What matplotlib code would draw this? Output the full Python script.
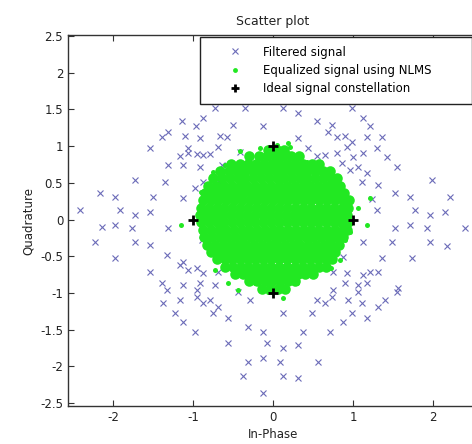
import matplotlib
matplotlib.use("Agg")
import matplotlib.pyplot as plt
import numpy as np

# filtered (pre-equalizer) samples, (in-phase, quadrature)
filtered_iq = [
    (-0.73, 1.52), (-0.35, 1.52), (0.13, 1.52), (0.31, 1.45), (0.99, 1.52),
    (-0.88, 1.38), (-1.14, 1.34), (-0.96, 1.28), (-0.50, 1.29), (-0.13, 1.27),
    (0.55, 1.34), (0.74, 1.29), (1.13, 1.38), (1.21, 1.27),
    (-1.39, 1.12), (-1.31, 1.19), (-1.10, 1.14), (-0.91, 1.11), (-0.66, 1.14), (-0.58, 1.12),
    (0.31, 1.11), (0.69, 1.19), (0.80, 1.12), (0.90, 1.14), (0.99, 1.06), (1.18, 1.12), (1.36, 1.12),
    (-1.54, 0.97), (-1.06, 0.97), (-0.69, 0.99), (0.44, 0.97), (0.93, 0.99), (1.30, 0.97),
    (-1.16, 0.87), (-1.06, 0.91), (-0.95, 0.89), (-0.88, 0.88), (-0.79, 0.89), (-0.41, 0.92),
    (0.55, 0.87), (0.65, 0.88), (0.80, 0.91), (1.00, 0.85), (1.13, 0.91), (1.43, 0.85),
    (-1.31, 0.74), (-1.13, 0.74), (-0.91, 0.72), (-0.64, 0.74), (0.86, 0.77), (0.96, 0.67),
    (1.06, 0.72), (1.55, 0.72),
    (-1.73, 0.54), (-1.35, 0.51), (-0.88, 0.51), (-0.66, 0.50), (1.11, 0.51), (1.18, 0.63),
    (1.31, 0.47), (1.99, 0.54),
    (-0.98, 0.43), (-2.16, 0.36), (-1.98, 0.31), (-1.50, 0.31), (-1.13, 0.29), (0.74, 0.43),
    (1.24, 0.28), (1.53, 0.36), (1.71, 0.31), (2.21, 0.31),
    (-2.41, 0.13), (-1.91, 0.13), (-1.73, 0.06), (-1.54, 0.10), (1.30, 0.13), (1.78, 0.13),
    (1.96, 0.06), (2.15, 0.10),
    (-2.14, -0.10), (-1.98, -0.07), (-1.76, -0.12), (-1.31, -0.12), (1.53, -0.12), (1.71, -0.07),
    (1.93, -0.12), (2.40, -0.12),
    (-2.23, -0.31), (-1.73, -0.31), (-1.54, -0.35), (-0.89, -0.28), (1.13, -0.31), (1.49, -0.31),
    (1.96, -0.31), (2.18, -0.36),
    (-1.98, -0.52), (-1.33, -0.48), (0.88, -0.51), (1.36, -0.52), (1.74, -0.52),
    (-1.13, -0.58), (-1.16, -0.62),
    (-1.54, -0.72), (-1.06, -0.69), (-0.95, -0.66), (-0.88, -0.73), (-0.69, -0.72),
    (0.75, -0.72), (0.93, -0.73), (1.13, -0.76), (1.21, -0.72), (1.31, -0.72),
    (-1.39, -0.87), (-1.13, -0.89), (-0.91, -0.87), (-0.73, -0.89), (0.90, -0.87), (1.06, -0.89),
    (1.18, -0.87), (1.56, -0.93),
    (-1.33, -0.96), (-0.95, -0.96), (-0.44, -0.99), (0.75, -0.96), (1.06, -0.99), (1.55, -0.99),
    (-1.38, -1.14), (-1.16, -1.10), (-0.95, -1.06), (-0.88, -1.14), (-0.79, -1.10), (-0.69, -1.19),
    (-0.29, -1.10),
    (0.55, -1.10), (0.65, -1.14), (0.74, -1.06), (0.94, -1.10), (1.11, -1.14), (1.31, -1.19),
    (1.40, -1.10),
    (-1.23, -1.27), (-1.13, -1.40), (-0.75, -1.27), (-0.56, -1.34), (0.13, -1.27), (0.49, -1.27),
    (0.88, -1.40), (0.99, -1.27), (1.18, -1.34),
    (-0.98, -1.53), (-0.31, -1.46), (-0.13, -1.53), (0.38, -1.53), (0.71, -1.53),
    (-0.56, -1.68), (-0.08, -1.68), (0.13, -1.75), (0.31, -1.71),
    (-0.31, -1.94), (-0.13, -1.89), (0.09, -1.94), (0.56, -1.94),
    (-0.38, -2.13), (0.13, -2.13), (0.31, -2.16),
    (-0.13, -2.36),
]

# equalized samples: dense cloud, one row of in-phase values per quadrature level
equalized_rows = [
    (0.95, [-0.06, 0.05, 0.14]),
    (0.86, [-0.30, -0.17, -0.07, 0.03, 0.12, 0.22, 0.33]),
    (0.76, [-0.52, -0.41, -0.31, -0.21, -0.11, -0.01, 0.08, 0.18, 0.28, 0.38, 0.49, 0.58]),
    (0.66, [-0.66, -0.55, -0.45, -0.35, -0.25, -0.16, -0.06, 0.04, 0.13, 0.23, 0.33, 0.42,
            0.52, 0.62, 0.71]),
    (0.56, [-0.75, -0.64, -0.54, -0.44, -0.35, -0.25, -0.15, -0.05, 0.05, 0.14, 0.24, 0.34,
            0.43, 0.53, 0.63, 0.73, 0.80]),
    (0.46, [-0.81, -0.71, -0.61, -0.51, -0.41, -0.32, -0.22, -0.12, -0.02, 0.08, 0.17, 0.27,
            0.37, 0.46, 0.56, 0.66, 0.75, 0.84]),
    (0.36, [-0.85, -0.76, -0.66, -0.56, -0.46, -0.37, -0.27, -0.17, -0.07, 0.03, 0.12, 0.22,
            0.32, 0.41, 0.51, 0.61, 0.71, 0.80, 0.89]),
    (0.26, [-0.88, -0.78, -0.69, -0.59, -0.49, -0.39, -0.29, -0.20, -0.10, 0.00, 0.10, 0.19,
            0.29, 0.39, 0.48, 0.58, 0.68, 0.77, 0.87, 0.95]),
    (0.16, [-0.90, -0.80, -0.70, -0.61, -0.51, -0.41, -0.31, -0.21, -0.12, -0.02, 0.08, 0.18,
            0.27, 0.37, 0.47, 0.57, 0.66, 0.76, 0.86, 0.94]),
    (0.06, [-0.91, -0.82, -0.72, -0.62, -0.52, -0.43, -0.33, -0.23, -0.13, -0.04, 0.06, 0.16,
            0.26, 0.35, 0.45, 0.55, 0.64, 0.74, 0.84, 0.93]),
    (-0.04, [-0.90, -0.80, -0.70, -0.61, -0.51, -0.41, -0.31, -0.22, -0.12, -0.02, 0.08, 0.17,
             0.27, 0.37, 0.47, 0.56, 0.66, 0.76, 0.85, 0.94]),
    (-0.14, [-0.88, -0.78, -0.68, -0.59, -0.49, -0.39, -0.30, -0.20, -0.10, 0.00, 0.09, 0.19,
             0.29, 0.39, 0.48, 0.58, 0.68, 0.78, 0.87, 0.93]),
    (-0.24, [-0.86, -0.76, -0.66, -0.57, -0.47, -0.37, -0.27, -0.18, -0.08, 0.02, 0.11, 0.21,
             0.31, 0.41, 0.50, 0.60, 0.70, 0.79, 0.88]),
    (-0.34, [-0.82, -0.72, -0.63, -0.53, -0.43, -0.34, -0.24, -0.14, -0.04, 0.05, 0.15, 0.25,
             0.34, 0.44, 0.54, 0.64, 0.73, 0.83]),
    (-0.44, [-0.77, -0.67, -0.58, -0.48, -0.38, -0.29, -0.19, -0.09, 0.01, 0.10, 0.20, 0.30,
             0.39, 0.49, 0.59, 0.68, 0.78]),
    (-0.54, [-0.70, -0.60, -0.51, -0.41, -0.31, -0.22, -0.12, -0.02, 0.07, 0.17, 0.27, 0.36,
             0.46, 0.56, 0.66, 0.74]),
    (-0.64, [-0.60, -0.50, -0.40, -0.31, -0.21, -0.11, -0.02, 0.08, 0.18, 0.27, 0.37, 0.47,
             0.57, 0.66]),
    (-0.74, [-0.47, -0.37, -0.27, -0.18, -0.08, 0.02, 0.11, 0.21, 0.31, 0.40, 0.50]),
    (-0.84, [-0.30, -0.20, -0.10, -0.01, 0.09, 0.19, 0.28]),
    (-0.94, [-0.14, -0.04, 0.06, 0.15]),
]

# looser equalized samples around the edge of the cloud
equalized_fringe = [
    (0.05, 1.02), (0.19, 1.04), (0.21, 0.99), (-0.16, 0.97), (0.19, 0.90),
    (-0.41, 0.93), (-0.60, 0.74), (-0.75, 0.65), (-0.40, 0.72), (0.42, 0.78),
    (0.59, 0.65), (0.67, 0.58), (-1.15, -0.07), (-0.90, 0.37), (-0.85, -0.31),
    (1.21, 0.29), (1.17, -0.07), (0.92, 0.20), (1.06, 0.16), (0.87, 0.33),
    (0.96, -0.17), (0.90, -0.28), (-0.60, -0.53), (-0.72, -0.69), (-0.56, -0.87),
    (-0.44, -0.96), (-0.22, -0.87), (-0.06, -0.99), (0.30, -0.87), (0.12, -1.07),
    (0.46, -0.73), (0.56, -0.62), (0.73, -0.66), (0.71, -0.48), (0.84, -0.55),
]

ideal_i = [1, 0, -1, 0]
ideal_q = [0, 1, 0, -1]

x_ticks = [-2, -1, 0, 1, 2]
y_ticks = [-2.5, -2, -1.5, -1, -0.5, 0, 0.5, 1, 1.5, 2, 2.5]
y_tick_labels = ["-2.5", "-2", "-1.5", "-1", "-0.5", "0", "0.5", "1", "1.5", "2", "2.5"]

GREEN = "#22e822"


def main():
    W, H = 472, 444
    fig = plt.figure(figsize=(W / 100, H / 100), dpi=100)
    # right side of the axes runs just past the image edge, like the source
    ax = fig.add_axes([68 / W, 38 / H, 410 / W, 371 / H])

    fx, fy = np.array(filtered_iq).T
    ax.plot(fx, fy, "x", color="#6b6bb8", ms=4, mew=0.8, label="Filtered signal")

    gx = [x for y, xs in equalized_rows for x in xs]
    gy = [y for y, xs in equalized_rows for x in xs]
    ax.plot(gx, gy, "o", color=GREEN, ms=7.6, mew=0,
            label="Equalized signal using NLMS")
    ex, ey = np.array(equalized_fringe).T
    ax.plot(ex, ey, "o", color=GREEN, ms=3.6, mew=0)

    ax.plot(ideal_i, ideal_q, "+", color="k", ms=7, mew=2,
            label="Ideal signal constellation")

    ax.set_xlim(-2.5625, 2.5625)
    ax.set_ylim(-2.54, 2.514)
    ax.set_xticks(x_ticks)
    ax.set_xticklabels([str(t) for t in x_ticks])
    ax.set_yticks(y_ticks)
    ax.set_yticklabels(y_tick_labels)
    ax.tick_params(direction="in", top=True, right=True, length=4,
                   labelsize=8.5, colors="#333333", labelcolor="#222222")
    for s in ax.spines.values():
        s.set_color("#333333")
        s.set_linewidth(1)

    ax.set_title("Scatter plot", fontsize=9, color="#222222", pad=7)
    ax.set_xlabel("In-Phase", fontsize=8.5, color="#222222", labelpad=3)
    ax.set_ylabel("Quadrature", fontsize=8.5, color="#222222", labelpad=4)

    leg = ax.legend(
        loc="upper left",
        bbox_to_anchor=(200 / W, (H - 106) / H, 272 / W, 69 / H),
        bbox_transform=fig.transFigure,
        mode="expand",
        borderaxespad=0,
        fontsize=8.5,
        borderpad=0.73,
        labelspacing=0.45,
        handlelength=4.47,
        handletextpad=0.14,
        numpoints=1,
        fancybox=False,
        framealpha=1,
        edgecolor="#222222",
    )
    leg.get_frame().set_linewidth(1)
    leg.legend_handles[1].set_markersize(3.5)
    leg.legend_handles[2].set_markersize(6)

    fig.savefig("out.png", dpi=100)


if __name__ == "__main__":
    main()
